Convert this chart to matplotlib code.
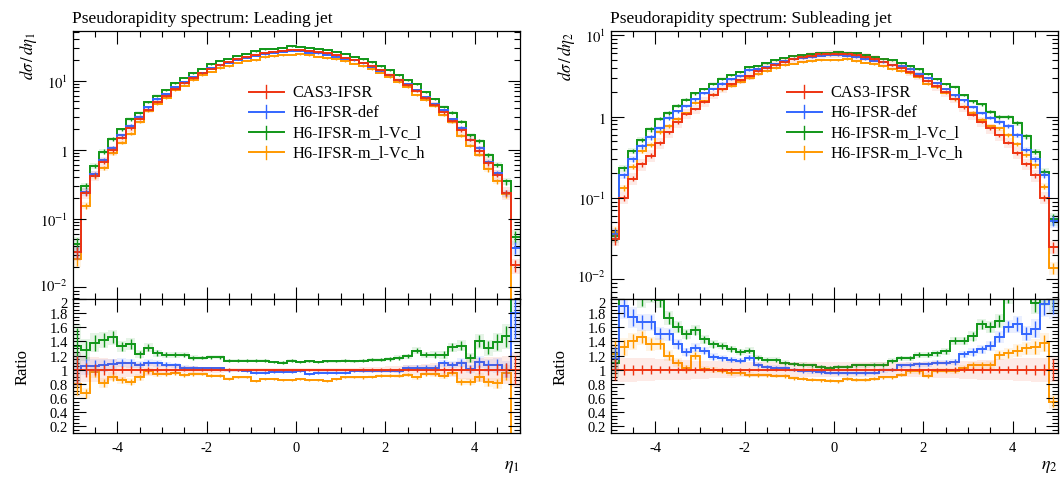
import numpy as np
import matplotlib
matplotlib.use("Agg")
import matplotlib.pyplot as plt
from matplotlib.ticker import FixedLocator, MultipleLocator, FuncFormatter, NullFormatter, LogLocator
from matplotlib.transforms import ScaledTranslation

plt.rcParams['font.family'] = ['Liberation Serif', 'DejaVu Serif']
plt.rcParams['mathtext.fontset'] = 'stix'
plt.rcParams['axes.unicode_minus'] = False

# ---------------- data ----------------
series_names = ["CAS3-IFSR", "H6-IFSR-def", "H6-IFSR-m_l-Vc_l", "H6-IFSR-m_l-Vc_h"]
series_colors = ['#EE3311', '#3366FF', '#109618', '#FF9900']

eta_edges = np.round(np.linspace(-5.0, 5.0, 51), 2)

# Leading jet: reference (CAS3-IFSR) d sigma / d eta_1
lead_cas3 = [0.0325, 0.232, 0.42, 0.66, 0.98, 1.48, 2.03, 2.81, 3.72, 4.93,
             6.03, 7.55, 9.14, 10.9, 12.8, 14.8, 16.6, 18.5, 20.3, 21.9,
             23.7, 25.1, 26.0, 27.2, 27.8, 27.7, 27.0, 25.9, 24.8, 23.3,
             21.6, 19.9, 18.1, 16.2, 14.2, 12.2, 10.3, 8.6, 7.0, 5.6,
             4.5, 3.45, 2.6, 1.9, 1.38, 0.95, 0.63, 0.43, 0.235, 0.021]
# Leading jet: ratios to CAS3-IFSR
lead_def_ratio = [1.00, 1.05, 1.05, 1.06, 1.08, 1.10, 1.09, 1.07, 1.10, 1.09,
                  1.07, 1.06, 1.03, 1.02, 1.02, 1.02, 1.02, 0.99, 0.99, 0.98,
                  0.96, 0.96, 0.97, 0.97, 0.97, 0.98, 0.94, 0.96, 0.96, 0.96,
                  0.96, 0.985, 0.985, 0.985, 0.985, 0.985, 0.985, 1.03, 1.03, 1.03,
                  1.03, 1.09, 1.07, 1.10, 1.01, 1.11, 1.06, 1.06, 1.00, 1.80]
lead_vcl_ratio = [1.33, 1.28, 1.38, 1.42, 1.46, 1.33, 1.36, 1.22, 1.31, 1.23,
                  1.21, 1.21, 1.21, 1.17, 1.17, 1.175, 1.175, 1.13, 1.13, 1.13,
                  1.13, 1.13, 1.11, 1.10, 1.13, 1.11, 1.12, 1.11, 1.12, 1.12,
                  1.13, 1.12, 1.13, 1.14, 1.14, 1.15, 1.17, 1.19, 1.27, 1.21,
                  1.21, 1.21, 1.32, 1.34, 1.17, 1.40, 1.31, 1.39, 1.47, 2.60]
lead_vch_ratio = [0.80, 0.665, 0.97, 0.81, 0.90, 0.85, 0.83, 0.89, 0.975, 0.94,
                  0.94, 0.96, 0.925, 0.94, 0.94, 0.915, 0.915, 0.87, 0.89, 0.89,
                  0.835, 0.87, 0.87, 0.86, 0.86, 0.87, 0.86, 0.86, 0.845, 0.87,
                  0.89, 0.89, 0.89, 0.90, 0.915, 0.915, 0.915, 0.93, 0.89, 0.94,
                  0.94, 0.915, 0.96, 0.83, 0.83, 0.89, 0.82, 0.81, 0.95, 0.05]
# Leading jet: relative stat. errors and reference band half-width
lead_relerr = [0.20, 0.10, 0.08, 0.07, 0.06, 0.05, 0.05, 0.04, 0.04, 0.035,
               0.03, 0.03, 0.025, 0.025, 0.02, 0.02, 0.02, 0.02, 0.015, 0.015,
               0.015, 0.015, 0.015, 0.015, 0.015, 0.015, 0.015, 0.015, 0.015, 0.015,
               0.015, 0.015, 0.02, 0.02, 0.02, 0.02, 0.025, 0.025, 0.03, 0.03,
               0.035, 0.04, 0.04, 0.05, 0.05, 0.06, 0.07, 0.08, 0.10, 0.20]
lead_band = [0.25, 0.18, 0.18, 0.17, 0.15, 0.13, 0.11, 0.10, 0.09, 0.08,
             0.07, 0.06, 0.05, 0.05, 0.04, 0.04, 0.04, 0.03, 0.03, 0.03,
             0.03, 0.03, 0.03, 0.03, 0.03, 0.03, 0.03, 0.03, 0.03, 0.03,
             0.03, 0.03, 0.04, 0.04, 0.04, 0.05, 0.05, 0.06, 0.07, 0.08,
             0.09, 0.10, 0.11, 0.13, 0.15, 0.17, 0.18, 0.18, 0.20, 0.25]

# Subleading jet: reference (CAS3-IFSR) d sigma / d eta_2
sub_cas3 = [0.031, 0.100, 0.172, 0.258, 0.332, 0.475, 0.642, 0.852, 1.08, 1.24,
            1.53, 1.86, 2.19, 2.52, 2.82, 3.18, 3.60, 3.95, 4.35, 4.73,
            5.10, 5.35, 5.60, 5.82, 5.93, 5.95, 5.85, 5.65, 5.40, 5.10,
            4.75, 4.35, 3.95, 3.55, 3.15, 2.75, 2.35, 2.00, 1.65, 1.30,
            1.05, 0.86, 0.72, 0.59, 0.48, 0.36, 0.26, 0.19, 0.10, 0.025]
sub_def_ratio = [1.15, 1.90, 1.74, 1.67, 1.67, 1.51, 1.50, 1.36, 1.25, 1.31,
                 1.27, 1.18, 1.165, 1.14, 1.13, 1.17, 1.07, 1.04, 1.03, 1.02,
                 1.00, 0.985, 0.975, 0.97, 0.96, 0.955, 0.95, 0.95, 0.955, 0.96,
                 0.99, 1.00, 1.06, 1.07, 1.075, 1.08, 1.10, 1.10, 1.11, 1.22,
                 1.25, 1.29, 1.34, 1.46, 1.61, 1.64, 1.51, 1.58, 1.93, 2.10]
sub_vcl_ratio = [1.10, 2.30, 2.20, 2.02, 2.10, 1.99, 1.73, 1.60, 1.50, 1.56,
                 1.43, 1.36, 1.34, 1.29, 1.25, 1.27, 1.17, 1.14, 1.14, 1.10,
                 1.08, 1.07, 1.06, 1.04, 1.02, 1.04, 1.04, 1.06, 1.06, 1.07,
                 1.07, 1.13, 1.165, 1.165, 1.21, 1.21, 1.23, 1.26, 1.41, 1.41,
                 1.47, 1.64, 1.60, 1.69, 2.05, 2.30, 2.20, 1.95, 2.10, 2.20]
sub_vch_ratio = [1.22, 1.32, 1.40, 1.46, 1.36, 1.36, 1.20, 1.10, 1.02, 1.20,
                 1.01, 1.00, 0.985, 0.95, 0.95, 0.93, 0.925, 0.92, 0.915, 0.91,
                 0.88, 0.875, 0.86, 0.85, 0.845, 0.835, 0.87, 0.855, 0.855, 0.87,
                 0.89, 0.89, 0.93, 0.975, 0.975, 0.915, 0.985, 0.985, 0.985, 1.02,
                 1.06, 1.06, 1.06, 1.21, 1.23, 1.27, 1.30, 1.32, 1.38, 0.55]
sub_relerr = [0.15, 0.08, 0.07, 0.06, 0.06, 0.05, 0.05, 0.045, 0.04, 0.04,
              0.035, 0.035, 0.03, 0.03, 0.03, 0.03, 0.025, 0.025, 0.025, 0.025,
              0.025, 0.025, 0.025, 0.025, 0.025, 0.025, 0.025, 0.025, 0.025, 0.025,
              0.025, 0.025, 0.025, 0.025, 0.03, 0.03, 0.03, 0.03, 0.035, 0.035,
              0.04, 0.04, 0.045, 0.05, 0.05, 0.06, 0.06, 0.07, 0.08, 0.15]
sub_band = [0.18, 0.17, 0.17, 0.16, 0.16, 0.15, 0.15, 0.14, 0.14, 0.13,
            0.13, 0.12, 0.12, 0.12, 0.11, 0.11, 0.11, 0.11, 0.11, 0.11,
            0.11, 0.11, 0.11, 0.11, 0.11, 0.11, 0.11, 0.11, 0.11, 0.11,
            0.11, 0.11, 0.11, 0.11, 0.11, 0.11, 0.12, 0.12, 0.12, 0.13,
            0.13, 0.14, 0.14, 0.15, 0.15, 0.16, 0.16, 0.17, 0.17, 0.18]

main_ticks = [1e-2, 1e-1, 1.0, 10.0]
main_tick_labels = ['$10^{-2}$', '$10^{-1}$', '$1$', '$10^{1}$']
ratio_ticks = [0.2, 0.4, 0.6, 0.8, 1.0, 1.2, 1.4, 1.6, 1.8, 2.0]
ratio_tick_labels = ['0.2', '0.4', '0.6', '0.8', '1', '1.2', '1.4', '1.6', '1.8', '2']
x_ticks = [-4, -2, 0, 2, 4]

# ---------------- figure ----------------
W, H = 1060, 481
fig = plt.figure(figsize=(W / 100, H / 100), dpi=100)

def fx(px):
    return px / W

def fy(px):
    return 1 - px / H

ax_left_x, ax_w = 72.5, 447.0
ax_right_x = 610.5
main_top, main_bot, ratio_bot = 31.7, 300.0, 434.0


def style_axes(ax):
    ax.tick_params(which='both', direction='in', top=True, right=True,
                   labelsize=10.5, width=0.8, color='black')
    ax.tick_params(which='major', length=9)
    ax.tick_params(which='minor', length=4.5)
    for s in ax.spines.values():
        s.set_linewidth(0.9)


def draw_panel(x0, ref, ratios, relerr, band, ylim, title, ylab, xlab):
    axm = fig.add_axes([fx(x0), fy(main_bot), ax_w / W, (main_bot - main_top) / H])
    axr = fig.add_axes([fx(x0), fy(ratio_bot), ax_w / W, (ratio_bot - main_bot) / H])
    edges = eta_edges
    centers = 0.5 * (edges[:-1] + edges[1:])
    ref = np.asarray(ref)
    relerr = np.asarray(relerr)
    band = np.asarray(band)
    ratio_arrs = [np.ones_like(ref)] + [np.asarray(r) for r in ratios]
    values = [ref * r for r in ratio_arrs]

    order = [3, 2, 1, 0]
    for i in order:
        c = series_colors[i]
        v = values[i]
        rb = band if i == 0 else relerr * 1.2
        axm.stairs(v * (1 + rb), edges, baseline=v * (1 - rb), fill=True,
                   color=c, alpha=0.10, lw=0)
        axm.stairs(v, edges, baseline=None, color=c, lw=1.4)
        axm.vlines(centers, v * (1 - relerr), v * (1 + relerr), color=c, lw=1.0)

        r = ratio_arrs[i]
        axr.stairs(r * (1 + rb), edges, baseline=r * (1 - rb), fill=True,
                   color=c, alpha=0.10, lw=0)
        axr.stairs(r, edges, baseline=None, color=c, lw=1.4)
        axr.vlines(centers, r * (1 - relerr), r * (1 + relerr), color=c, lw=1.0)

    # main axes
    axm.set_yscale('log')
    axm.set_xlim(edges[0], edges[-1])
    axm.set_ylim(*ylim)
    axm.yaxis.set_major_locator(FixedLocator(main_ticks))
    axm.yaxis.set_major_formatter(FuncFormatter(
        lambda v, p: main_tick_labels[main_ticks.index(v)] if v in main_ticks else ''))
    axm.yaxis.set_minor_locator(LogLocator(base=10, subs=np.arange(2, 10)))
    axm.yaxis.set_minor_formatter(NullFormatter())
    axm.xaxis.set_major_locator(FixedLocator(x_ticks))
    axm.xaxis.set_minor_locator(MultipleLocator(0.5))
    axm.xaxis.set_major_formatter(NullFormatter())
    style_axes(axm)
    axm.set_title(title, loc='left', fontsize=12.5, pad=6)
    axm.set_ylabel(ylab, loc='top', fontsize=12)
    axm.yaxis.set_label_coords(-0.075, 1.0)

    # legend (manual)
    rows = [0.773, 0.698, 0.621, 0.547]
    for i in range(4):
        c = series_colors[i]
        y = rows[i]
        axm.plot([0.395, 0.473], [y, y], color=c, lw=1.4, transform=axm.transAxes)
        axm.plot([0.434, 0.434], [y - 0.024, y + 0.024], color=c, lw=1.0,
                 transform=axm.transAxes)
        axm.text(0.493, y, series_names[i], transform=axm.transAxes, fontsize=11.8,
                 va='center', ha='left')

    # ratio axes
    axr.set_xlim(edges[0], edges[-1])
    axr.set_ylim(0.105, 2.0)
    axr.yaxis.set_major_locator(FixedLocator(ratio_ticks))
    axr.yaxis.set_major_formatter(FuncFormatter(
        lambda v, p: ratio_tick_labels[p] if p is not None and p < len(ratio_tick_labels) else ''))
    axr.yaxis.set_minor_locator(MultipleLocator(0.05))
    axr.xaxis.set_major_locator(FixedLocator(x_ticks))
    axr.xaxis.set_minor_locator(MultipleLocator(0.5))
    style_axes(axr)
    axr.tick_params(axis='x', pad=6)
    axr.set_ylabel('Ratio', fontsize=12)
    axr.yaxis.set_label_coords(-0.095, 0.5)
    axr.set_xlabel(xlab, loc='right', fontsize=13)
    axr.xaxis.set_label_coords(1.0, -0.18)
    return axm, axr


panels = []
panels.append(draw_panel(ax_left_x, lead_cas3, [lead_def_ratio, lead_vcl_ratio, lead_vch_ratio],
                         lead_relerr, lead_band, (0.0068, 53.0),
                         'Pseudorapidity spectrum: Leading jet', r'$d\sigma\,/\,d\eta_1$', r'$\eta_1$'))
panels.append(draw_panel(ax_right_x, sub_cas3, [sub_def_ratio, sub_vcl_ratio, sub_vch_ratio],
                         sub_relerr, sub_band, (0.0057, 11.4),
                         'Pseudorapidity spectrum: Subleading jet', r'$d\sigma\,/\,d\eta_2$', r'$\eta_2$'))

# nudge the two touching labels (bottom of log axis, top of ratio axis) apart
fig.canvas.draw()
up = ScaledTranslation(0, 2.5 / 72, fig.dpi_scale_trans)
down = ScaledTranslation(0, -2.0 / 72, fig.dpi_scale_trans)
for axm, axr in panels:
    for t in axm.yaxis.get_major_ticks():
        if t.label1.get_text() == '$10^{-2}$':
            t.label1.set_transform(t.label1.get_transform() + up)
    for t in axr.yaxis.get_major_ticks():
        if t.label1.get_text() == '2':
            t.label1.set_transform(t.label1.get_transform() + down)

fig.savefig('out.png', dpi=100)
